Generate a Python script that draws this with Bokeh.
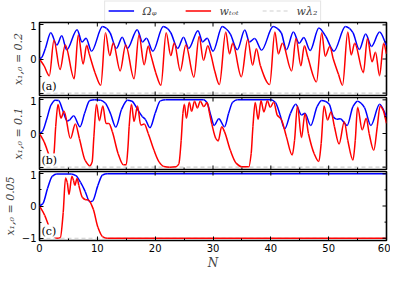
import math
from bokeh.plotting import figure
from bokeh.layouts import column
from bokeh.models import Range1d, FixedTicker, Legend, LegendItem, Label
from bokeh.embed import file_html
from bokeh.resources import INLINE

# ---------------- data ----------------
x_ticks = [0, 10, 20, 30, 40, 50, 60]
x_minor = [5, 15, 25, 35, 45, 55]
y_ticks = [-1, 0, 1]
y_minor = [-0.5, 0.5]
panel_tags = ["(a)", "(b)", "(c)"]
panel_ylabels = ["x₁,₀ = 0.2", "x₁,₀ = 0.1", "x₁,₀ = 0.05"]
legend_labels = ["Ωᵩ", "wₜₒₜ", "wλ₂"]

# panel (a)  x_{1,0}=0.2
a_omega_x = [0, 0.4, 1.0, 1.95, 3.0, 3.85, 4.7, 6.5, 7.35, 8.05, 9.0, 10.9, 11.6, 12.2, 13.3, 14.3, 15.2,
             16.9, 17.8, 18.5, 19.6, 21.4, 22.1, 22.7, 23.9, 24.9, 25.8, 27.4, 28.2, 29.0, 30.0, 31.6,
             32.3, 33.0, 34.2, 35.5, 36.3, 37.2, 38.4, 40.4, 41.1, 41.8, 42.7, 43.9, 44.9, 45.7, 46.8,
             48.3, 49.5, 50.9, 52.9, 53.6, 54.2, 55.3, 56.4, 57.4, 58.8, 60]
a_omega_y = [0, 0.05, 0.3, 0.77, 0.41, 0.68, 0.27, 0.86, 0.5, 0.61, 0.23, 0.95, 0.9, 0.77, 0.31, 0.64, 0.31,
             0.86, 0.5, 0.61, 0.23, 0.95, 0.9, 0.77, 0.31, 0.64, 0.31, 0.83, 0.5, 0.61, 0.23, 0.95,
             0.88, 0.73, 0.27, 0.85, 0.5, 0.6, 0.26, 0.95, 0.9, 0.77, 0.27, 0.79, 0.46, 0.63, 0.25,
             0.91, 0.66, 0.23, 0.95, 0.9, 0.77, 0.28, 0.73, 0.37, 0.79, 0.4]
a_wtot_x = [0, 0.8, 1.7, 2.5, 3.55, 4.45, 6.0, 6.7, 7.55, 8.15, 8.6, 9.6, 10.6, 11.4, 12.15, 12.75, 13.95,
            14.9, 16.35, 17.2, 18.1, 18.8, 19.2, 20.1, 21.0, 21.9, 22.7, 23.3, 24.35, 25.3, 26.7, 27.6,
            28.35, 29.1, 29.6, 30.3, 31.1, 32.2, 32.85, 33.4, 34.9, 36.0, 36.85, 37.5, 38.2, 39.8, 40.7,
            41.3, 42.0, 43.6, 44.35, 45.2, 45.8, 46.4, 47.9, 48.8, 49.4, 50.2, 50.8, 51.7, 52.4, 53.3,
            53.9, 54.5, 56.0, 56.7, 57.5, 58.1, 58.8, 59.5, 60]
a_wtot_y = [0, -0.2, -0.49, 0.55, -0.31, 0.41, -0.58, 0.7, -0.15, 0.4, 0.15, -0.4, -0.77, 0.77, 0.1, 0.47, -0.35,
            0.41, -0.58, 0.7, -0.17, 0.38, 0.15, -0.4, -0.77, 0.77, 0.1, 0.47, -0.35, 0.41, -0.53, 0.66,
            -0.04, 0.39, 0.15, -0.35, -0.75, 0.79, 0.15, 0.46, -0.52, 0.57, -0.18, 0.3, -0.2, -0.75, 0.79,
            0.15, 0.46, -0.35, 0.6, -0.2, 0.39, 0.05, -0.67, 0.77, 0.08, 0.37, 0.0, -0.45, -0.77, 0.79,
            0.12, 0.46, -0.4, 0.6, -0.08, 0.2, -0.49, 0.46, 0.15]

# panel (b)  x_{1,0}=0.1
b_omega_x = [0, 0.5, 1.2, 2.0, 2.7, 3.3, 4.0, 4.8, 5.2, 5.9, 7.0, 7.8, 8.7, 9.5, 10.6, 11.4, 12.3, 13.2,
             14.2, 15.2, 16.0, 17.0, 17.8, 18.3, 19.1, 20.0, 20.9, 21.8, 28.4, 29.0, 29.6, 30.2, 31.0,
             32.0, 32.7, 33.4, 34.2, 40.0, 40.8, 41.6, 42.4, 43.4, 44.3, 45.3, 45.9, 46.9, 48.0, 48.8,
             49.4, 50.1, 50.8, 51.4, 52.0, 53.2, 54.2, 55.0, 55.6, 56.2, 57.3, 58.8, 60]
b_omega_y = [0, 0.06, 0.4, 0.85, 0.99, 0.98, 0.7, 0.37, 0.4, 0.53, 0.2, 0.6, 0.98, 1.0, 0.99, 0.9, 0.58, 0.19,
             0.72, 0.99, 0.96, 0.7, 0.5, 0.42, 0.17, 0.6, 0.97, 1.0, 1.0, 0.9, 0.55, 0.24, 0.44,
             0.2, 0.6, 0.93, 1.0, 1.0, 0.92, 0.55, 0.14, 0.6, 0.87, 0.55, 0.6, 0.24, 0.8, 0.98,
             0.96, 0.87, 0.5, 0.42, 0.44, 0.24, 0.8, 0.96, 0.9, 0.77, 0.24, 0.87, 0.5]
b_wtot_x = [0, 0.8, 1.6, 2.2, 2.5, 2.8, 3.2, 3.7, 4.25, 5.35, 6.2, 6.9, 7.9, 8.7, 9.1, 9.4, 9.85, 10.35,
            10.95, 11.5, 12.0, 12.6, 13.6, 14.5, 15.0, 15.3, 15.5, 15.9, 16.35, 16.95, 17.5, 18.1, 18.8,
            19.8, 20.7, 21.5, 22.5, 23.6, 24.1, 24.5, 24.8, 25.05, 25.4, 25.9, 26.3, 26.8, 27.3, 27.8,
            28.4, 29.0, 29.4, 29.8, 30.5, 30.9, 31.5, 32.0, 33.0, 34.0, 35.0, 36.2, 36.6, 36.9, 37.3,
            37.8, 38.3, 38.8, 39.4, 39.9, 40.5, 41.1, 41.8, 42.7, 43.7, 44.1, 44.6, 45.3, 45.9, 46.5,
            47.5, 48.3, 48.7, 49.2, 49.8, 50.4, 51.0, 51.8, 52.7, 53.3, 54.2, 54.6, 55.0, 55.8, 56.5,
            57.0, 57.8, 58.4, 58.9, 59.4, 60]
b_wtot_y = [0, -0.25, -0.62, -0.88, -0.6, 0.2, 0.86, 0.46, 0.66, -0.15, 0.28, -0.15, -0.8, -0.96, -0.85, -0.1, 0.87, 0.38,
            0.82, 0.3, 0.3, 0.05, -0.6, -0.93, -0.93, -0.4, 0.2, 0.87, 0.36, 0.82, 0.25, 0.28, 0.0,
            -0.5, -0.85, -0.98, -1.0, -0.99, -0.9, -0.2, 0.6, 0.87, 0.45, 0.93, 0.66, 0.96, 0.76, 0.96,
            0.8, 0.92, 0.6, 0.28, -0.15, -0.22, 0.2, 0.05, -0.5, -0.88, -0.99, -0.99, -0.6, 0.2, 0.92,
            0.42, 0.97, 0.64, 0.97, 0.78, 0.93, 0.55, 0.42, -0.1, -0.64, -0.2, 0.82, -0.12, 0.59, 0.0,
            -0.6, -0.83, -0.3, 0.82, 0.4, 0.64, 0.2, -0.31, 0.35, -0.2, -0.79, -0.2, 0.78, 0.11, 0.45,
            0.0, -0.5, 0.2, 0.82, 0.7, 0.3]

# panel (c)  x_{1,0}=0.05
c_omega_x = [0, 0.6, 1.4, 2.2, 3.0, 5.5, 6.3, 7.1, 7.9, 8.7, 9.2, 10.1, 10.9, 11.7, 60]
c_omega_y = [0, 0.08, 0.55, 0.92, 0.99, 0.99, 0.94, 0.73, 0.45, 0.13, 0.16, 0.64, 0.96, 1.0, 1.0]
c_wtot_x = [0, 0.9, 1.7, 2.5, 3.0, 3.6, 4.1, 4.5, 4.8, 5.1, 5.6, 5.9, 6.1, 6.5, 6.8, 7.4, 7.9, 8.5,
            9.3, 10.1, 10.9, 11.7, 60]
c_wtot_y = [0, -0.29, -0.66, -0.94, -1.0, -0.98, -0.2, 0.87, 0.73, 0.36, 0.92, 0.78, 0.64, 0.85, 0.64, 0.27, 0.2, 0.18,
            -0.1, -0.66, -0.95, -1.0, -1.0]

wl2_x = [0, 60]
wl2_y = [-1, -1]

panels = [
    (a_omega_x, a_omega_y, a_wtot_x, a_wtot_y),
    (b_omega_x, b_omega_y, b_wtot_x, b_wtot_y),
    (c_omega_x, c_omega_y, c_wtot_x, c_wtot_y),
]

BLUE = "#0000ff"
RED = "#ff0000"
GRAY = "#cfcfcf"
X0, X1 = 0, 60
Y0, Y1 = -1.07, 1.07
W = 390
BL, BR = 26, 4
strip_h = 21
heights = [75, 74, 102]


def hermite_segments(xs, ys):
    """Control points so that Bokeh's bezier glyph draws a smooth,
    non-overshooting curve through the read points."""
    n = len(xs)
    h = [xs[k + 1] - xs[k] for k in range(n - 1)]
    d = [(ys[k + 1] - ys[k]) / h[k] for k in range(n - 1)]
    m = [0.0] * n
    m[0], m[-1] = d[0], d[-1]
    for k in range(1, n - 1):
        if d[k - 1] * d[k] <= 0:
            m[k] = 0.0
        else:
            w1 = 2 * h[k] + h[k - 1]
            w2 = h[k] + 2 * h[k - 1]
            m[k] = (w1 + w2) / (w1 / d[k - 1] + w2 / d[k])
    seg = dict(x0=[], y0=[], x1=[], y1=[], cx0=[], cy0=[], cx1=[], cy1=[])
    for k in range(n - 1):
        t = h[k] / 3.0
        seg["x0"].append(xs[k]); seg["y0"].append(ys[k])
        seg["x1"].append(xs[k + 1]); seg["y1"].append(ys[k + 1])
        seg["cx0"].append(xs[k] + t); seg["cy0"].append(ys[k] + m[k] * t)
        seg["cx1"].append(xs[k + 1] - t); seg["cy1"].append(ys[k + 1] - m[k + 1] * t)
    return seg


def curve(p, xs, ys, color):
    s = hermite_segments(xs, ys)
    return p.bezier(x0=s["x0"], y0=s["y0"], x1=s["x1"], y1=s["y1"],
                    cx0=s["cx0"], cy0=s["cy0"], cx1=s["cx1"], cy1=s["cy1"],
                    line_color=color, line_width=1.5)


# ---- legend strip (its lines lie outside its visible range; only the key shows) ----
lp = figure(width=W, height=strip_h, x_range=Range1d(X0, X1), y_range=Range1d(5, 6),
            output_backend="svg", toolbar_location=None,
            min_border_left=BL, min_border_right=BR, min_border_top=0, min_border_bottom=0)
lp.axis.visible = False
lp.grid.visible = False
lp.outline_line_color = None
lp.background_fill_color = "white"
lb = lp.line(a_omega_x, a_omega_y, line_color=BLUE, line_width=1.5)
lr = lp.line(a_wtot_x, a_wtot_y, line_color=RED, line_width=1.5)
lg = lp.line(wl2_x, wl2_y, line_color=GRAY, line_width=1.2, line_dash="4 3")
legend = Legend(items=[LegendItem(label=legend_labels[0], renderers=[lb]),
                       LegendItem(label=legend_labels[1], renderers=[lr]),
                       LegendItem(label=legend_labels[2], renderers=[lg])],
                orientation="horizontal", location="center")
legend.label_text_font = "DejaVu Serif"
legend.label_text_font_style = "italic"
legend.label_text_font_size = "11px"
legend.glyph_width = 26
legend.glyph_height = 10
legend.label_standoff = 9
legend.spacing = 22
legend.padding = 3
legend.margin = 0
legend.border_line_color = "#cccccc"
legend.border_line_width = 1
legend.background_fill_color = "white"
lp.add_layout(legend)

figs = [lp]
for i, (ox, oy, wx, wy) in enumerate(panels):
    last = (i == 2)
    p = figure(width=W, height=heights[i], x_range=Range1d(X0, X1), y_range=Range1d(Y0, Y1),
               output_backend="svg", toolbar_location=None,
               min_border_left=BL, min_border_right=BR, min_border_top=1, min_border_bottom=1)
    p.background_fill_color = "white"
    p.border_fill_color = "white"
    p.grid.visible = False
    p.outline_line_color = "black"
    p.outline_line_width = 1.6

    p.line(wl2_x, wl2_y, line_color=GRAY, line_width=1.2, line_dash="4 3")
    curve(p, ox, oy, BLUE)
    curve(p, wx, wy, RED)

    # inward tick marks on the sides without labels
    p.scatter(x_ticks, [Y1] * len(x_ticks), marker="dash", size=8, angle=math.pi / 2,
              line_color="black", line_width=1)
    p.scatter(x_minor, [Y1] * len(x_minor), marker="dash", size=4, angle=math.pi / 2,
              line_color="black", line_width=1)
    p.scatter([X1] * len(y_ticks), y_ticks, marker="dash", size=8, line_color="black", line_width=1)
    p.scatter([X1] * len(y_minor), y_minor, marker="dash", size=4, line_color="black", line_width=1)
    if not last:
        p.scatter(x_ticks, [Y0] * len(x_ticks), marker="dash", size=8, angle=math.pi / 2,
                  line_color="black", line_width=1)
        p.scatter(x_minor, [Y0] * len(x_minor), marker="dash", size=4, angle=math.pi / 2,
                  line_color="black", line_width=1)

    def style_axis(ax):
        ax.major_tick_in = 4
        ax.major_tick_out = 0
        ax.minor_tick_in = 2
        ax.minor_tick_out = 0
        ax.axis_line_color = None
        ax.major_tick_line_color = "black"
        ax.minor_tick_line_color = "black"
        ax.major_tick_line_width = 1
        ax.minor_tick_line_width = 1
        ax.major_label_text_font = "DejaVu Sans"
        ax.major_label_text_font_size = "10px"
        ax.major_label_text_color = "black"
        ax.major_label_standoff = 3

    xa = p.xaxis[0]
    if last:
        xa.ticker = FixedTicker(ticks=x_ticks, minor_ticks=x_minor)
        style_axis(xa)
        xa.axis_label = "N"
        xa.axis_label_text_font = "DejaVu Serif"
        xa.axis_label_text_font_style = "italic"
        xa.axis_label_text_font_size = "12px"
        xa.axis_label_standoff = 1
    else:
        xa.visible = False
    ya = p.yaxis[0]
    ya.ticker = FixedTicker(ticks=y_ticks, minor_ticks=y_minor)
    style_axis(ya)
    if not last:
        ya.major_label_overrides = {-1: ""}
    ya.axis_label = panel_ylabels[i]
    ya.axis_label_text_font = "DejaVu Serif"
    ya.axis_label_text_font_style = "italic"
    ya.axis_label_text_font_size = "11px"
    ya.axis_label_standoff = 2

    p.add_layout(Label(x=2, y=3, x_units="screen", y_units="screen", text=panel_tags[i],
                       text_font="DejaVu Serif", text_font_size="11px", text_color="black",
                       background_fill_color="white", background_fill_alpha=1.0))
    figs.append(p)

layout = column(*figs, spacing=0)
open("out.html", "w").write(file_html(layout, INLINE))
